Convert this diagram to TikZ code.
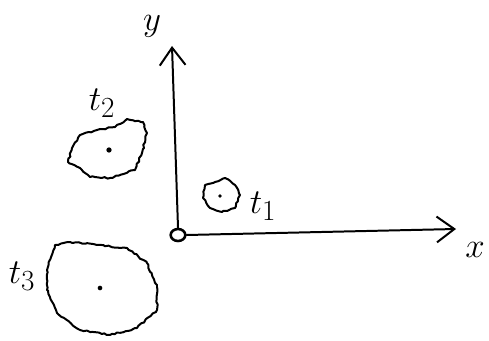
\documentclass[tikz,border=0pt]{standalone}
\usetikzlibrary{arrows.meta,decorations.pathmorphing,shapes.geometric}
\begin{document}
\begin{tikzpicture}[x=0.03cm,y=-0.03cm,line width=1.7pt,line cap=round,line join=round]
\tikzstyle{blob}=[draw, decorate, decoration={random steps,segment length=2.5pt,amplitude=0.7pt}]
\tikzstyle{dot}=[circle, fill, inner sep=1.6pt]
\tikzstyle{lbl}=[font=\Huge, scale=1.2]
\tikzstyle{axis}=[-{Straight Barb[length=15pt,width=22pt,line width=1.7pt]}]
\useasboundingbox (0,0) rectangle (489,340);
\pgfmathsetseed{11}
% origin and axes
\node[draw,ellipse,inner sep=0,minimum width=0.44cm,minimum height=0.36cm,line width=2.2pt] (O) at (178,235) {};
\coordinate (yend) at (172,46);
\coordinate (xend) at (456,229);
\draw[axis] (O.north) -- (yend);
\draw[axis] (O.east) -- (xend);
\node[lbl] (ly) at (152,26) {$y$};
\node[lbl] (lx) at (475,250) {$x$};
% t1
\draw[blob] (205,185) -- (215,182) -- (225,178) -- (235,185) -- (240,195) -- (235,208) -- (222,212) -- (210,208) -- (203,198) -- cycle;
\node[dot,inner sep=1.2pt] (c1) at (220,196) {};
\node[lbl] (l1) at (263,206) {$t_1$};
% t2
\draw[blob] (72,148) -- (80,135) -- (97,130) -- (115,127) -- (127,119) -- (143,122) -- (147,133) -- (142,153) -- (135,170) -- (110,178) -- (90,177) -- (80,168) -- (68,162) -- cycle;
\node[dot] (c2) at (109,150) {};
\node[lbl] (l2) at (102,103) {$t_2$};
% t3
\draw[blob] (55,245) -- (70,242) -- (97,245) -- (127,248) -- (147,263) -- (157,287) -- (157,310) -- (137,328) -- (110,335) -- (80,330) -- (57,313) -- (47,290) -- (47,270) -- cycle;
\node[dot,inner sep=1.4pt] (c3) at (100,288) {};
\node[lbl] (l3) at (22,276) {$t_3$};
\end{tikzpicture}
\end{document}
